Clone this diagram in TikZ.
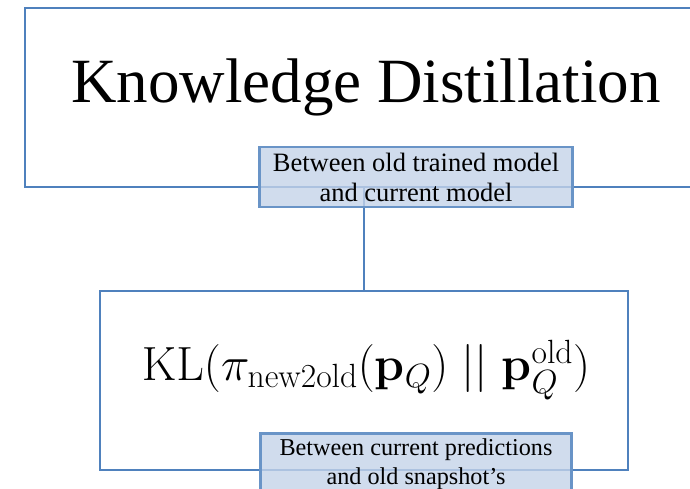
\RequirePackage{fix-cm}
\documentclass[tikz,border=0pt]{standalone}
\usepackage{amsmath}
\usepackage{amssymb}
\usepackage[no-math]{fontspec}
\setmainfont{Liberation Serif}
\usepackage{tikz}
\usetikzlibrary{positioning}
\definecolor{boxblue}{HTML}{4F81BD}
\definecolor{tagblue}{HTML}{C4D3E9}
\tikzset{
    bigbox/.style={draw=boxblue,line width=2.5pt,inner sep=0pt},
    tag/.style={draw=boxblue!85,line width=2.5pt,fill=tagblue,fill opacity=0.8,text opacity=1,
        align=center,inner sep=0pt,font=\fontsize{26.5}{30}\selectfont},
    link/.style={draw=boxblue,line width=2.5pt}
}

\begin{document}
\begin{tikzpicture}[x=1pt,y=-1pt]
    \useasboundingbox (0,0) rectangle (690,489);
    \clip (0,0) rectangle (690,489);
    \node[bigbox,minimum width=678,minimum height=179] (kd) at (364,97.5) {};
    \node (kdtext) at (366,87) {\fontsize{63}{70}\selectfont Knowledge Distillation};
    \node[bigbox,minimum width=528,minimum height=179] (kl) at (364,380.5) {};
    \node (kltext) at (366,370) {\fontsize{48}{56}\selectfont
        $\mathrm{KL}(\pi_{\mathrm{new2old}}(\mathbf{p}_Q) \mathrel{||} \mathbf{p}_Q^{\mathrm{old}})$};
    \path[link] (kd.south) -- (kl.north);
    \node[tag,minimum width=313,minimum height=60] (tagkd) at (416,177)
        {Between old trained model\\and current model};
    \node[tag,minimum width=311,minimum height=62,anchor=north,font=\fontsize{24.2}{29}\selectfont] (tagkl) at (416,432)
        {Between current predictions\\and old snapshot’s};
\end{tikzpicture}
\end{document}
